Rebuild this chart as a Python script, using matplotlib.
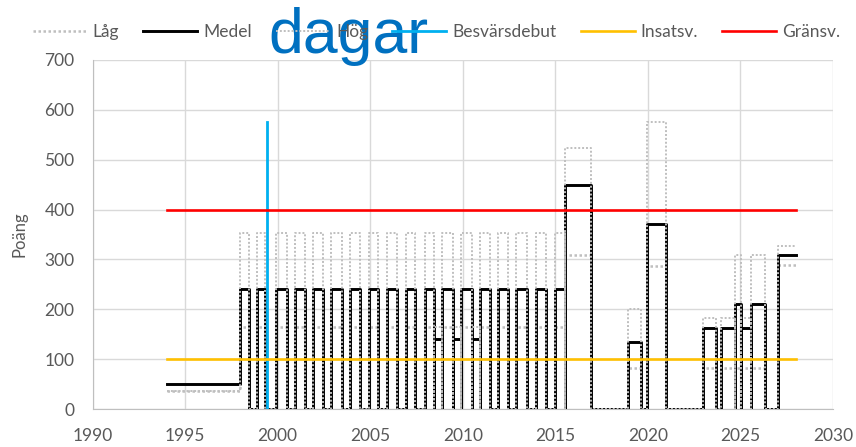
import matplotlib
matplotlib.use('Agg')
import matplotlib.pyplot as plt

# perioder (start, slut) och poäng per period
starts = [1994.0, 1997.96, 1998.88, 1999.92, 2000.93, 2001.92, 2002.91, 2003.90, 2004.93, 2005.92,
          2006.93, 2007.95, 2008.47, 2008.90, 2009.48, 2009.93, 2010.50, 2010.92, 2011.91, 2012.90,
          2013.98, 2014.97, 2015.51, 2018.93, 2019.93, 2022.98, 2023.94, 2024.69, 2025.05, 2025.59,
          2027.03]
ends = [1997.96, 1998.45, 1999.33, 2000.49, 2001.47, 2002.46, 2003.46, 2004.44, 2005.43, 2006.43,
        2007.41, 2008.47, 2008.90, 2009.48, 2009.93, 2010.50, 2010.92, 2011.46, 2012.45, 2013.45,
        2014.52, 2015.51, 2016.95, 2019.65, 2021.00, 2023.70, 2024.69, 2025.05, 2025.59, 2026.31,
        2028.02]
medel = [50, 240, 240, 240, 240, 240, 240, 240, 240, 240,
         240, 240, 140, 240, 140, 240, 140, 240, 240, 240,
         240, 240, 450, 135, 371, 162, 162, 210, 162, 210,
         309]
lag = [37, 165, 165, 165, 165, 165, 165, 165, 165, 165,
       165, 165, 140, 165, 140, 165, 140, 165, 165, 165,
       165, 165, 309, 82, 287, 82, 82, 82, 82, 82,
       289]
hog = [37, 353, 353, 353, 353, 353, 353, 353, 353, 353,
       353, 353, 165, 353, 165, 353, 165, 353, 353, 353,
       353, 353, 523, 200, 576, 182, 182, 309, 182, 309,
       327]

debut_x = [1999.41, 1999.41]
debut_y = [0, 576]
ref_x = [1994, 2028]
insats = [100, 100]
grans = [400, 400]

xticks = [1990, 1995, 2000, 2005, 2010, 2015, 2020, 2025, 2030]
yticks = [0, 100, 200, 300, 400, 500, 600, 700]


def trace(s, e, v):
    # rektangel per period, första perioden utan nedgång till 0
    xs, ys = [s[0], e[0]], [v[0], v[0]]
    for i in range(1, len(v)):
        if i > 1:
            xs.append(s[i]); ys.append(0)
        xs += [s[i], e[i]]
        ys += [v[i], v[i]]
        if i < len(v) - 1:
            xs.append(e[i]); ys.append(0)
    return xs, ys


plt.rcParams['font.family'] = ['Lato', 'DejaVu Sans']
grey_txt = '#595959'

fig = plt.figure(figsize=(8.56, 4.47), dpi=100)
ax = fig.add_axes([92.5 / 856, 1 - 409 / 447, (833 - 92.5) / 856, (409 - 60) / 447])

dot = (0, (1, 1))
x, y = trace(starts, ends, lag)
h1, = ax.plot(x, y, color='#BFBFBF', lw=1.8, ls=dot, zorder=2, label='Låg')
x, y = trace(starts, ends, medel)
h2, = ax.plot(x, y, color='black', lw=2.1, zorder=3, label='Medel')
x, y = trace(starts, ends, hog)
h3, = ax.plot(x, y, color='#BFBFBF', lw=1.4, ls=dot, zorder=4, label='Hög')
h4, = ax.plot(debut_x, debut_y, color='#00B0F0', lw=2.0, zorder=5, label='Besvärsdebut')
h5, = ax.plot(ref_x, insats, color='#FFC000', lw=1.9, zorder=6, label='Insatsv.')
h6, = ax.plot(ref_x, grans, color='#FF0000', lw=1.9, zorder=7, label='Gränsv.')

ax.set_xlim(1990, 2030)
ax.set_ylim(0, 700)
ax.set_xticks(xticks)
ax.set_yticks(yticks)
ax.grid(True, color='#D9D9D9', lw=1)
ax.set_axisbelow(True)
for side in ['top', 'right']:
    ax.spines[side].set_visible(False)
for side in ['left', 'bottom']:
    ax.spines[side].set_color('#BFBFBF')
ax.tick_params(length=0, labelsize=12.5, colors=grey_txt)
ax.tick_params(axis='y', pad=13)
ax.tick_params(axis='x', pad=14)
ax.set_ylabel('Poäng', fontsize=12, color=grey_txt)
ax.yaxis.set_label_coords(-0.088, 0.5)

fig.legend(handles=[h1, h2, h3, h4, h5, h6], loc='center', bbox_to_anchor=(0.51, 0.928),
           ncol=6, frameon=False, fontsize=12.5, labelcolor=grey_txt,
           handlelength=3.1, handletextpad=0.35, columnspacing=1.4)

fig.text(268 / 856, 1 - 53 / 447, 'dagar', fontsize=45, color='#0070C0',
         family='Liberation Sans', va='baseline', ha='left')

fig.savefig('out.png', dpi=100)
